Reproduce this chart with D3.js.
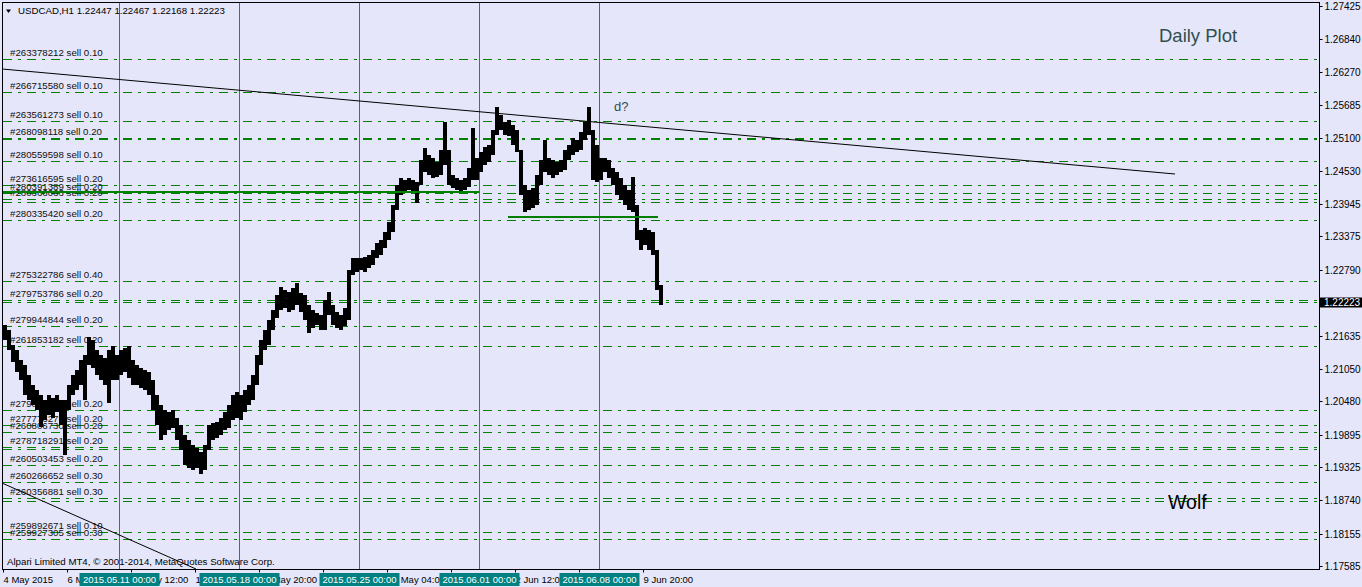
<!DOCTYPE html>
<html><head><meta charset="utf-8">
<script src="https://cdn.jsdelivr.net/npm/d3@7"></script>
<style>
html,body{margin:0;padding:0;background:#E6E6FA;}
svg{display:block;}
text{font-family:"Liberation Sans",Arial,sans-serif;}
</style></head><body>
<svg id="c" width="1362" height="587"></svg>
<script>
// ---------------- data ----------------
const symbolTitle = "USDCAD,H1";
const lastOHLC = [1.22447, 1.22467, 1.22168, 1.22223];
const blockHours = 4; // each entry = high/low of 4 consecutive H1 bars, starting 4 May 2015 04:00
const blockHigh = [1.2182,1.2173,1.2147,1.2138,1.2120,1.2112,1.2094,1.2077,1.2068,1.2059,1.2050,1.2059,1.2054,1.2059,1.2050,1.2050,1.2077,1.2094,1.2103,1.2120,1.2129,1.2161,1.2156,1.2138,1.2129,1.2124,1.2138,1.2145,1.2129,
1.2138,1.2142,1.2145,1.2120,1.2112,1.2106,1.2103,1.2099,1.2085,1.2059,1.2041,1.2033,1.2029,1.2033,1.2019,1.2006,1.1989,1.1980,1.1971,1.1966,1.1959,1.1971,1.2006,1.2010,1.2012,1.2019,1.2029,1.2041,1.2059,1.2064,
1.2059,1.2068,1.2077,1.2094,1.2129,1.2156,1.2173,1.2191,1.2208,1.2235,1.2249,1.2243,1.2240,1.2247,1.2256,1.2238,1.2235,1.2217,1.2208,1.2203,1.2200,1.2226,1.2240,1.2217,1.2205,1.2200,1.2212,1.2279,1.2300,1.2300,
1.2300,1.2301,1.2305,1.2314,1.2326,1.2331,1.2345,1.2363,1.2393,1.2428,1.2440,1.2437,1.2440,1.2437,1.2433,1.2472,1.2493,1.2481,1.2475,1.2468,1.2489,1.2539,1.2489,1.2446,1.2440,1.2437,1.2440,1.2458,1.2528,1.2475,
1.2486,1.2495,1.2498,1.2525,1.2565,1.2551,1.2539,1.2542,1.2533,1.2525,1.2489,1.2428,1.2419,1.2423,1.2446,1.2472,1.2507,1.2475,1.2472,1.2468,1.2472,1.2489,1.2498,1.2511,1.2507,1.2521,1.2539,1.2565,1.2525,1.2498,
1.2475,1.2475,1.2472,1.2458,1.2451,1.2440,1.2428,1.2419,1.2442,1.2393,1.2349,1.2352,1.2349,1.2345,1.2314,1.2252];
const blockLow = [1.2156,1.2138,1.2117,1.2099,1.2085,1.2059,1.2050,1.2041,1.2033,1.2003,1.2015,1.2024,1.2019,1.2029,1.2006,1.1954,1.2033,1.2059,1.2068,1.2077,1.2050,1.2112,1.2106,1.2094,1.2085,1.2077,1.2045,1.2085,1.2085,
1.2094,1.2099,1.2089,1.2077,1.2077,1.2071,1.2068,1.2059,1.2033,1.2006,1.1980,1.1989,1.1998,1.2001,1.1980,1.1962,1.1936,1.1931,1.1927,1.1931,1.1920,1.1927,1.1962,1.1980,1.1983,1.1989,1.1998,1.2001,1.2015,1.2019,
1.2015,1.2029,1.2041,1.2050,1.2077,1.2112,1.2138,1.2147,1.2173,1.2194,1.2208,1.2212,1.2205,1.2208,1.2217,1.2205,1.2191,1.2168,1.2177,1.2182,1.2173,1.2173,1.2200,1.2182,1.2177,1.2173,1.2180,1.2191,1.2270,1.2275,
1.2279,1.2275,1.2282,1.2287,1.2300,1.2305,1.2317,1.2331,1.2345,1.2384,1.2410,1.2416,1.2419,1.2414,1.2396,1.2428,1.2451,1.2446,1.2440,1.2442,1.2446,1.2463,1.2428,1.2423,1.2419,1.2416,1.2419,1.2424,1.2437,1.2437,
1.2451,1.2463,1.2468,1.2481,1.2516,1.2525,1.2516,1.2514,1.2498,1.2486,1.2410,1.2381,1.2384,1.2388,1.2393,1.2428,1.2451,1.2446,1.2440,1.2446,1.2451,1.2454,1.2472,1.2481,1.2486,1.2489,1.2507,1.2516,1.2437,1.2433,
1.2437,1.2451,1.2440,1.2428,1.2410,1.2402,1.2393,1.2384,1.2381,1.2331,1.2314,1.2322,1.2314,1.2305,1.2243,1.2217];

const priceTicks = [1.27425,1.26840,1.26270,1.25685,1.25100,1.24530,1.23945,1.23375,1.22790,1.22205,1.21635,1.21050,1.20480,1.19895,1.19325,1.18740,1.18155,1.17585];
const timeTickBars = [0,64,128,192,256,320,384,448,512,576,640];
const timeTickLabels = ["4 May 2015","6 May 20:00","11 May 12:00","14 May 04:00","18 May 20:00","21 May 12:00","26 May 04:00","28 May 20:00","2 Jun 12:00","5 Jun 04:00","9 Jun 20:00"];
const separatorBars = [116,236,356,476,596];
const separatorLabels = ["2015.05.11 00:00","2015.05.18 00:00","2015.05.25 00:00","2015.06.01 00:00","2015.06.08 00:00"];

const orderLabels = ["#263378212 sell 0.10","#266715580 sell 0.10","#263561273 sell 0.10","#268098118 sell 0.20","",
"#280559598 sell 0.10","#273616595 sell 0.20","#280391389 sell 0.20","#280366063 sell 0.20","","#280335420 sell 0.20",
"#275322786 sell 0.40","#279753786 sell 0.20","","#279944844 sell 0.20","#261853182 sell 0.20","#279092107 sell 0.20",
"#277776275 sell 0.20","#260806730 sell 0.20","#278718291 sell 0.20","","#260503453 sell 0.20","#260266652 sell 0.30",
"#260356881 sell 0.30","","#259892671 sell 0.10","#259927305 sell 0.30"];
const orderPrices = [1.26493,1.25913,1.25404,1.25105,1.25085,
1.24701,1.24279,1.24139,1.24033,1.23981,1.23664,
1.22593,1.22259,1.22224,1.21802,1.21450,1.20326,
1.20062,1.19939,1.19676,1.19641,1.19360,1.19061,
1.18780,1.18727,1.18182,1.18059];

// trend lines: [barStart, priceStart, barEnd, priceEnd]
const blackLines = [[-1,1.26318,1172,1.24473],[-1,1.19043,193,1.17532]];
const greenLines = [[-1,1.24156,476,1.24156],[505,1.23717,655,1.23717]];
const notes = [{t:"Daily Plot",bar:1156,p:1.2679},{t:"d?",bar:611,p:1.2558},{t:"Wolf",bar:1165,p:1.1858}];
const copyright = "Alpari Limited MT4, \u00a9 2001-2014, MetaQuotes Software Corp.";

// ---------------- drawing ----------------
const W = 1362, H = 587;
const L = 2, R = 1319, T = 2, B = 569;
const svg = d3.select("#c");
const x = d3.scaleLinear().domain([0, 1316]).range([3, 1319]);
const y = d3.scaleLinear().domain([1.17585, 1.27425]).range([566, 6]);
const crisp = v => Math.round(v) + 0.5;

svg.append("rect").attr("width", W).attr("height", H).attr("fill", "#E6E6FA");
svg.append("defs").append("clipPath").attr("id","plot").append("rect")
  .attr("x", L).attr("y", T).attr("width", R - L).attr("height", B - T);
const plot = svg.append("g").attr("clip-path","url(#plot)");

// period separators
plot.selectAll("line.sep").data(separatorBars).join("line")
  .attr("x1", d => crisp(x(d))).attr("x2", d => crisp(x(d)))
  .attr("y1", T).attr("y2", B).attr("stroke", "#237b88").attr("stroke-width", 1);

// order lines
const orders = orderPrices.map((p, i) => ({p, label: orderLabels[i]}));
plot.selectAll("line.ord").data(orders).join("line")
  .attr("x1", 3).attr("x2", R)
  .attr("y1", d => crisp(y(d.p))).attr("y2", d => crisp(y(d.p)))
  .attr("stroke", "#008000").attr("stroke-width", 1)
  .attr("stroke-dasharray", "9,6,3,6");
plot.selectAll("text.ord").data(orders.filter(d => d.label)).join("text")
  .attr("x", 10).attr("y", d => Math.round(y(d.p)) - 3)
  .attr("font-size", "9.7px").attr("fill", "#111").text(d => d.label);

// price bars (4-hour blocks of H1 data)
const blocks = blockHigh.map((h, i) => ({i, h, l: blockLow[i]}));
plot.append("g").attr("shape-rendering", "crispEdges")
  .selectAll("rect").data(blocks).join("rect")
  .attr("x", d => x(d.i * blockHours))
  .attr("width", d => x((d.i + 1) * blockHours) - x(d.i * blockHours))
  .attr("y", d => Math.round(y(d.h)))
  .attr("height", d => Math.max(1, Math.round(y(d.l)) - Math.round(y(d.h))))
  .attr("fill", "#000");

// green solid lines
plot.selectAll("line.g").data(greenLines).join("line")
  .attr("x1", d => x(d[0])).attr("x2", d => x(d[2]))
  .attr("y1", d => y(d[1])).attr("y2", d => y(d[3]))
  .attr("stroke", "#008000").attr("stroke-width", 2);
// black trend lines
plot.selectAll("line.k").data(blackLines).join("line")
  .attr("x1", d => x(d[0])).attr("x2", d => x(d[2]))
  .attr("y1", d => y(d[1])).attr("y2", d => y(d[3]))
  .attr("stroke", "#000").attr("stroke-width", 1);

// notes
plot.append("text").attr("x", x(notes[0].bar)).attr("y", y(notes[0].p))
  .attr("font-size", "18.5px").attr("fill", "#2F4F4F").text(notes[0].t);
plot.append("text").attr("x", x(notes[1].bar)).attr("y", y(notes[1].p))
  .attr("font-size", "13px").attr("fill", "#2F4F4F").text(notes[1].t);
plot.append("text").attr("x", x(notes[2].bar)).attr("y", y(notes[2].p))
  .attr("font-size", "19.5px").attr("fill", "#000").text(notes[2].t);
plot.append("circle").attr("cx", 1205).attr("cy", 499).attr("r", 1.6).attr("fill", "#000");

// title
svg.append("path").attr("d", "M6,9.5 L11,9.5 L8.5,13 Z").attr("fill", "#000");
svg.append("text").attr("x", 18).attr("y", 14).attr("font-size", "9.7px")
  .text(symbolTitle + "  " + lastOHLC.map(v => v.toFixed(5)).join(" "));
svg.append("text").attr("x", 7).attr("y", 565).attr("font-size", "9.7px").text(copyright);

// frame
svg.append("rect").attr("x", L + 0.5).attr("y", T + 0.5).attr("width", R - L).attr("height", B - T)
  .attr("fill", "none").attr("stroke", "#000");

// price axis
const yAxis = d3.axisRight(y).tickValues(priceTicks).tickFormat(d3.format(".5f")).tickSize(3).tickPadding(2);
const gy = svg.append("g").attr("transform", `translate(${R + 0.5},0)`).call(yAxis);
gy.select(".domain").remove();
gy.selectAll(".tick").attr("transform", d => `translate(0,${crisp(y(d))})`);
gy.selectAll("text").attr("font-family", '"Liberation Sans",Arial,sans-serif').attr("font-size", "10px").attr("fill", "#000");
gy.selectAll("line").attr("stroke", "#000");

// current price box
const cp = lastOHLC[3];
svg.append("rect").attr("x", R + 1).attr("y", Math.round(y(cp)) - 4.5).attr("width", W - R - 1).attr("height", 10).attr("fill", "#000");
svg.append("text").attr("x", R + 5).attr("y", Math.round(y(cp)) + 3.5).attr("font-size", "10px").attr("fill", "#fff").text(cp.toFixed(5));

// time axis
const xAxis = d3.axisBottom(x).tickValues(timeTickBars).tickFormat((d, i) => timeTickLabels[i]).tickSize(3).tickPadding(0);
const gx = svg.append("g").attr("transform", `translate(0,${B + 0.5})`).call(xAxis);
gx.select(".domain").remove();
gx.selectAll(".tick").attr("transform", d => `translate(${crisp(x(d))},0)`);
gx.selectAll("line").attr("stroke", "#000");
gx.selectAll("text").attr("text-anchor", "start").attr("x", 0).attr("y", 0).attr("dy", "13px")
  .attr("font-family", '"Liberation Sans",Arial,sans-serif').attr("font-size", "9.5px").attr("fill", "#000");

// separator date boxes
const sb = svg.selectAll("g.sb").data(separatorBars).join("g")
  .attr("transform", d => `translate(${crisp(x(d))},${B + 4})`);
sb.append("rect").attr("x", -40).attr("y", 0).attr("width", 80).attr("height", 13).attr("fill", "#008080");
sb.append("text").attr("x", 0).attr("y", 10).attr("text-anchor", "middle").attr("font-size", "9.5px")
  .attr("fill", "#fff").text((d, i) => separatorLabels[i]);
</script>
</body></html>
